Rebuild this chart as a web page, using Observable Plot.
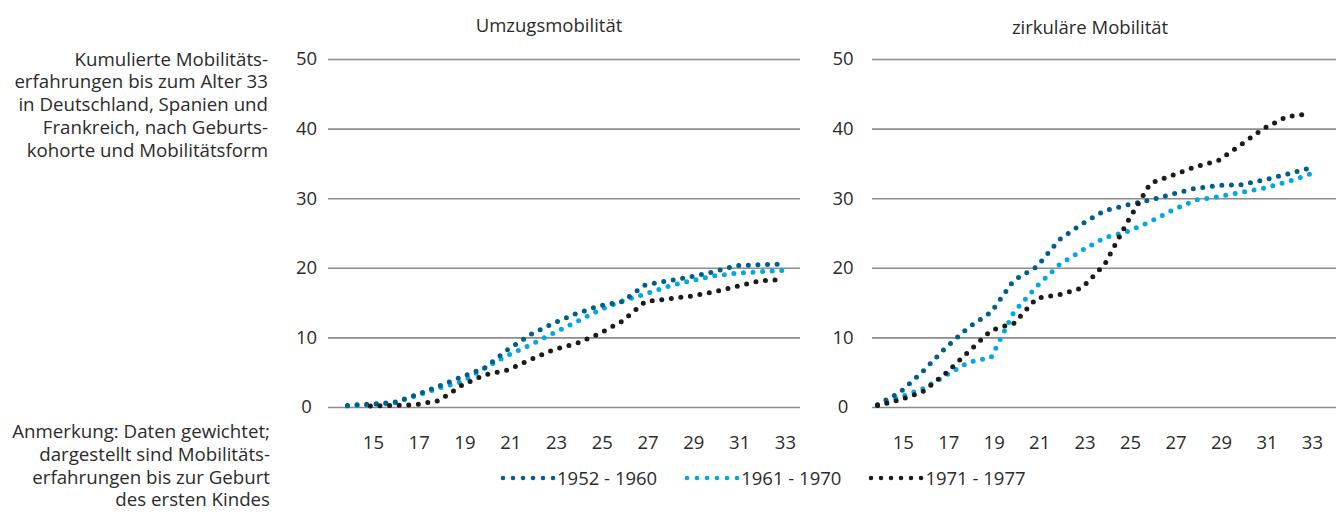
<!DOCTYPE html>
<html><head><meta charset="utf-8">
<script src="https://cdn.jsdelivr.net/npm/d3@7"></script>
<script src="https://cdn.jsdelivr.net/npm/@observablehq/plot@0.6"></script>
<style>
body{margin:0;background:#fff;}
#root{position:relative;width:1336px;height:515px;font-family:"Open Sans",sans-serif;color:#2b2b2b;overflow:hidden;background:#fff}
.note{position:absolute;left:0;text-align:right;font-size:18.7px;line-height:22.8px;}
.title{position:absolute;font-size:18.5px;line-height:20px;text-align:center;width:400px}
#legend{position:absolute;top:467px;left:500px;display:flex;align-items:center;font-size:18.5px;line-height:22px;white-space:nowrap}
#legend .item{display:flex;align-items:center;margin-right:27px}
#legend svg{display:block}
</style></head><body><div id="root"></div>
<script>
// --- data -------------------------------------------------------------
const ages = [14,15,16,17,18,19,20,21,22,23,24,25,26,27,28,29,30,31,32,33];
const xTicks = [15,17,19,21,23,25,27,29,31,33];
const yTicks = [0,10,20,30,40,50];
const cohorts = ["1952 - 1960", "1961 - 1970", "1971 - 1977"];
const colors = ["#005e8c", "#00a9e2", "#1e1a18"];
const panelTitles = ["Umzugsmobilität", "zirkuläre Mobilität"];

// Umzugsmobilität
const umzug1952 = [0.3,0.5,0.7,1.8,3.1,4.4,5.7,8.3,10.5,12.1,13.5,14.6,15.2,17.6,18.2,18.8,19.5,20.4,20.5,20.6];
const umzug1961 = [0.2,0.4,0.6,1.7,2.8,3.7,5.7,7.5,9.0,10.7,12.3,14.0,15.3,16.3,17.4,18.2,18.9,19.3,19.5,19.7];
const umzug1971 = [null,0.2,0.3,0.4,1.0,3.2,4.7,5.4,6.9,8.3,9.2,10.6,12.4,15.2,15.6,16.0,16.6,17.4,18.2,18.4];
// zirkuläre Mobilität
const zirk1952 = [0.4,2.2,5.2,8.6,11.5,13.7,18.3,20.2,24.1,26.4,28.3,29.1,29.8,30.7,31.5,31.9,32.0,32.7,33.5,34.4];
const zirk1961 = [0.4,1.5,2.7,4.6,6.5,7.2,13.7,17.4,20.5,22.6,24.4,25.3,26.7,28.4,29.8,30.3,30.9,31.5,32.4,33.5];
const zirk1971 = [0.3,1.1,2.3,4.9,8.0,11.1,12.1,15.7,16.2,17.2,20.6,26.7,32.2,33.4,34.6,35.5,37.8,40.1,41.8,42.2];

const headText = ["Kumulierte Mobilitäts-", "erfahrungen bis zum Alter 33", "in Deutschland, Spanien und", "Frankreich, nach Geburts-", "kohorte und Mobilitätsform"];
const noteText = ["Anmerkung: Daten gewichtet;", "dargestellt sind Mobilitäts-", "erfahrungen bis zur Geburt", "des ersten Kindes"];

// --- build ------------------------------------------------------------
function rows(values, cohort) {
  return ages.map((a, i) => ({age: a, value: values[i], cohort})).filter(d => d.value != null);
}
const root = document.getElementById("root");

function panel(seriesList, o) {
  const lineMarks = [1, 0, 2].map(k => Plot.lineY(rows(seriesList[k], cohorts[k]), {
    x: "age", y: "value", stroke: colors[k], strokeWidth: 5,
    strokeDasharray: "0 9.6", strokeLinecap: "round", strokeLinejoin: "round"
  }));
  const svg = Plot.plot({
    width: o.width, height: o.height,
    marginLeft: o.marginLeft, marginRight: o.marginRight, marginTop: 19, marginBottom: 53,
    x: {domain: o.xDomain, label: null},
    y: {domain: [0, 50], label: null},
    style: {fontFamily: "'Open Sans', sans-serif", fontSize: "18.5px", color: "#2b2b2b", background: "transparent", overflow: "visible"},
    marks: [
      Plot.gridY(yTicks, {stroke: "#8c8c8c", strokeOpacity: 1, strokeWidth: 1.6}),
      Plot.axisY(yTicks, {tickSize: 0, tickPadding: o.yPad, textAnchor: "middle", fill: "#2b2b2b", label: null}),
      Plot.axisX(xTicks, {tickSize: 0, tickPadding: 28, dx: 3, fill: "#2b2b2b", label: null}),
      ...lineMarks
    ]
  });
  svg.style.position = "absolute";
  svg.style.left = o.left + "px";
  svg.style.top = "40px";
  root.appendChild(svg);
}

panel([umzug1952, umzug1961, umzug1971], {left: 270, width: 540, height: 420, marginLeft: 58, marginRight: 10, xDomain: [13.17, 33.79], yPad: 22});
panel([zirk1952, zirk1961, zirk1971], {left: 800, width: 536, height: 420, marginLeft: 72, marginRight: 0, xDomain: [13.78, 34.19], yPad: 29.5});

function addTitle(text, cx, top) {
  const d = document.createElement("div");
  d.className = "title"; d.textContent = text;
  d.style.left = (cx - 200) + "px"; d.style.top = top + "px";
  root.appendChild(d);
}
addTitle(panelTitles[0], 549, 15);
addTitle(panelTitles[1], 1090, 17);

function addNote(lines, top, right) {
  const d = document.createElement("div");
  d.className = "note"; d.style.top = top + "px"; d.style.width = right + "px";
  d.innerHTML = lines.map(l => `<div>${l}</div>`).join("");
  root.appendChild(d);
}
addNote(headText, 47.5, 268);
addNote(noteText, 420, 270);

const legend = document.createElement("div");
legend.id = "legend";
cohorts.forEach((c, k) => {
  const it = document.createElement("div"); it.className = "item";
  const ns = "http://www.w3.org/2000/svg";
  const s = document.createElementNS(ns, "svg");
  s.setAttribute("width", 57); s.setAttribute("height", 10);
  const l = document.createElementNS(ns, "line");
  l.setAttribute("x1", 3); l.setAttribute("x2", 54); l.setAttribute("y1", 5); l.setAttribute("y2", 5);
  l.setAttribute("stroke", colors[k]); l.setAttribute("stroke-width", 4.6);
  l.setAttribute("stroke-dasharray", "0 10"); l.setAttribute("stroke-linecap", "round");
  s.appendChild(l);
  const t = document.createElement("span"); t.textContent = c;
  it.appendChild(s); it.appendChild(t);
  legend.appendChild(it);
});
root.appendChild(legend);
</script></body></html>
